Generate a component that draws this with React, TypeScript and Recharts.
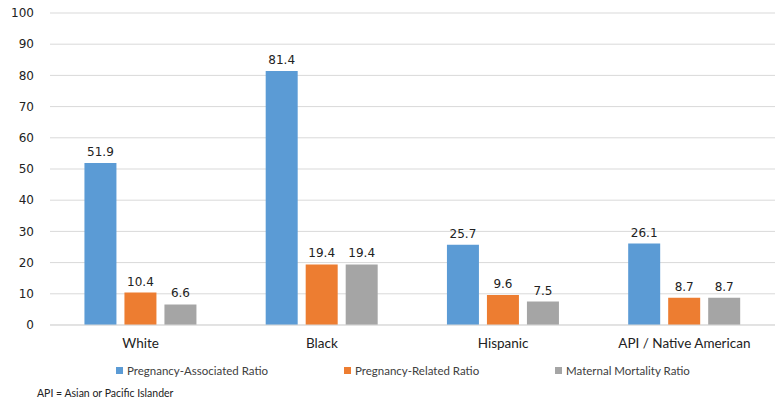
import React from 'react';
import { BarChart, Bar, XAxis, YAxis, CartesianGrid, LabelList } from 'recharts';

const categories = ['White', 'Black', 'Hispanic', 'API / Native American'];
const associated = [51.9, 81.4, 25.7, 26.1];
const related = [10.4, 19.4, 9.6, 8.7];
const maternal = [6.6, 19.4, 7.5, 8.7];
const yTicks = [0, 10, 20, 30, 40, 50, 60, 70, 80, 90, 100];

const series = [
  { key: 'associated', name: 'Pregnancy-Associated Ratio', color: '#5B9BD5' },
  { key: 'related', name: 'Pregnancy-Related Ratio', color: '#ED7D31' },
  { key: 'maternal', name: 'Maternal Mortality Ratio', color: '#A5A5A5' },
];

const data = categories.map((name, i) => ({
  name,
  associated: associated[i],
  related: related[i],
  maternal: maternal[i],
}));

const legendX = [116, 344, 555];

const LegendBlock = () => (
  <div style={{ position: 'absolute', left: 0, top: 364, width: 778, height: 38, fontFamily: 'Lato, sans-serif' }}>
    {series.map((s, i) => (
      <div
        key={s.key}
        style={{ position: 'absolute', left: legendX[i], top: 0, display: 'flex', alignItems: 'center', fontSize: 11.5, color: '#404040' }}
      >
        <span style={{ width: 7, height: 7, background: s.color, marginRight: 4, display: 'inline-block' }} />
        {s.name}
      </div>
    ))}
    <div style={{ position: 'absolute', left: 37, top: 23, fontSize: 10.5, color: '#222' }}>
      API = Asian or Pacific Islander
    </div>
  </div>
);

const App = () => (
  <div style={{ position: 'absolute', left: 0, top: 0, width: 778, height: 402, background: '#fff' }}>
    <BarChart
      width={778}
      height={402}
      data={data}
      margin={{ top: 13, right: 3, left: 0, bottom: 47 }}
      barGap={8}
      barCategoryGap="19%"
    >
      <CartesianGrid vertical={false} stroke="#D9D9D9" />
      <XAxis
        dataKey="name"
        axisLine={{ stroke: '#D9D9D9' }}
        tickLine={false}
        height={30}
        tick={{ fontSize: 13.5, fill: '#222', fontFamily: 'Lato, sans-serif' }}
        tickMargin={7}
      />
      <YAxis
        domain={[0, 100]}
        ticks={yTicks}
        width={50}
        axisLine={false}
        tickLine={false}
        tick={{ fontSize: 12, fill: '#222', fontFamily: 'DejaVu Sans, sans-serif' }}
        tickMargin={10}
      />
      {series.map((s) => (
        <Bar key={s.key} dataKey={s.key} name={s.name} fill={s.color} isAnimationActive={false}>
          <LabelList
            dataKey={s.key}
            position="top"
            offset={7}
            style={{ fontSize: 12, fill: '#222', fontFamily: 'DejaVu Sans, sans-serif' }}
          />
        </Bar>
      ))}
    </BarChart>
    <LegendBlock />
  </div>
);

export default App;
